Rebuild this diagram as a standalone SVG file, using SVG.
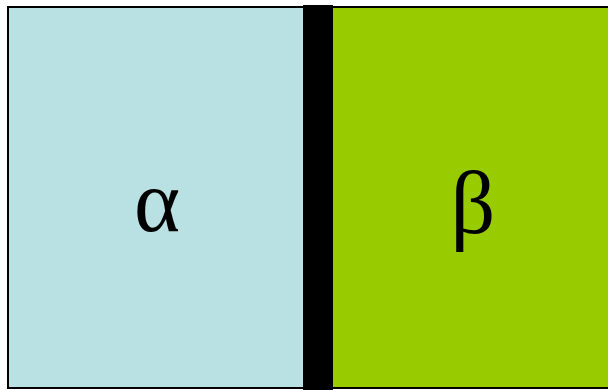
<svg xmlns="http://www.w3.org/2000/svg" width="608" height="390" viewBox="0 0 608 390">
<style>
.lbl{font-family:"Liberation Serif","DejaVu Serif",serif;font-size:88px;fill:#000;text-anchor:middle}
</style>
<rect width="608" height="390" fill="#fff"/>
<g id="alpha">
<rect x="8" y="7" width="297" height="381" fill="#B9E0E3" stroke="#000" stroke-width="2"/>
<text class="lbl" x="157" y="231">α</text>
</g>
<g id="beta">
<rect x="332" y="7" width="277" height="381" fill="#99CC00" stroke="#000" stroke-width="2"/>
<text class="lbl" x="473" y="233">β</text>
</g>
<g id="wall">
<rect x="303" y="5" width="30" height="385" fill="#000"/>
</g>
</svg>
